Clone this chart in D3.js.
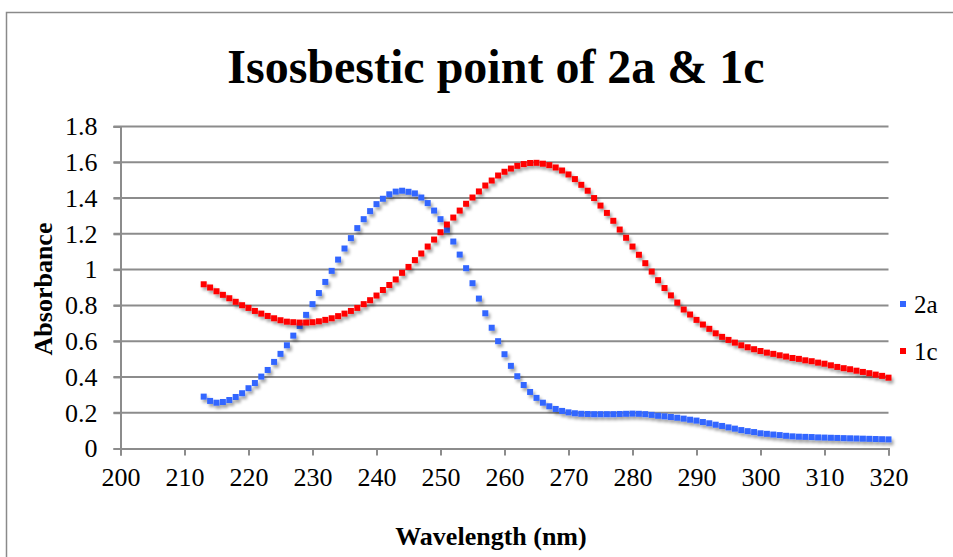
<!DOCTYPE html>
<html>
<head>
<meta charset="utf-8">
<script src="https://cdn.jsdelivr.net/npm/d3@7"></script>
<style>
  html, body { margin: 0; padding: 0; background: #fff; }
  svg { display: block; }
  text { font-family: "Liberation Serif", "Times New Roman", serif; fill: #000; }
</style>
</head>
<body>
<svg id="chart" width="953" height="557"></svg>
<script>
// Wavelength sampled every 1 nm, 213–320 nm
const wavelengths = d3.range(213, 321);

// Absorbance of compound 2a
const abs2a = [
  0.290, 0.266, 0.256, 0.260, 0.271, 0.288, 0.309, 0.337, 0.366, 0.402,
  0.439, 0.484, 0.529, 0.577, 0.631, 0.685, 0.747, 0.807, 0.869, 0.931,
  0.993, 1.056, 1.118, 1.176, 1.232, 1.282, 1.327, 1.366, 1.396, 1.421,
  1.436, 1.441, 1.435, 1.426, 1.403, 1.372, 1.330, 1.282, 1.222, 1.157,
  1.084, 1.008, 0.924, 0.838, 0.756, 0.675, 0.600, 0.527, 0.462, 0.404,
  0.355, 0.316, 0.283, 0.256, 0.236, 0.221, 0.210, 0.202, 0.197, 0.194,
  0.193, 0.192, 0.192, 0.192, 0.192, 0.193, 0.194, 0.195, 0.194, 0.192,
  0.188, 0.183, 0.180, 0.176, 0.172, 0.167, 0.161, 0.156, 0.148, 0.141,
  0.133, 0.126, 0.118, 0.111, 0.103, 0.097, 0.092, 0.085, 0.082, 0.078,
  0.075, 0.071, 0.068, 0.066, 0.065, 0.064, 0.062, 0.061, 0.060, 0.059,
  0.058, 0.057, 0.056, 0.055, 0.054, 0.053, 0.052, 0.051
];

// Absorbance of compound 1c
const abs1c = [
  0.918, 0.900, 0.879, 0.859, 0.840, 0.820, 0.801, 0.786, 0.769, 0.754,
  0.741, 0.728, 0.717, 0.709, 0.706, 0.704, 0.704, 0.706, 0.711, 0.719,
  0.728, 0.740, 0.754, 0.769, 0.786, 0.807, 0.829, 0.855, 0.886, 0.914,
  0.945, 0.982, 1.015, 1.053, 1.090, 1.129, 1.168, 1.209, 1.252, 1.291,
  1.330, 1.368, 1.403, 1.437, 1.470, 1.498, 1.526, 1.547, 1.565, 1.580,
  1.590, 1.596, 1.597, 1.592, 1.584, 1.571, 1.554, 1.532, 1.506, 1.474,
  1.441, 1.400, 1.358, 1.317, 1.273, 1.224, 1.178, 1.129, 1.083, 1.036,
  0.989, 0.941, 0.897, 0.856, 0.816, 0.777, 0.749, 0.719, 0.693, 0.669,
  0.644, 0.624, 0.607, 0.592, 0.577, 0.566, 0.555, 0.545, 0.536, 0.529,
  0.521, 0.514, 0.506, 0.501, 0.493, 0.488, 0.480, 0.474, 0.465, 0.456,
  0.449, 0.443, 0.435, 0.428, 0.421, 0.413, 0.406, 0.396
];

const seriesNames = ["2a", "1c"];
const seriesColors = ["#3366ff", "#ff0000"];
const xTicks = d3.range(200, 321, 10);
const yTicks = [0, 0.2, 0.4, 0.6, 0.8, 1, 1.2, 1.4, 1.6, 1.8];

const svg = d3.select("#chart");
const W = 953, H = 557;
const plot = { left: 120.5, right: 888.5, top: 126.5, bottom: 448.5 };

const x = d3.scaleLinear().domain([200, 320]).range([plot.left, plot.right]);
const y = d3.scaleLinear().domain([0, 1.8]).range([plot.bottom, plot.top]);

// soft drop shadow under the markers
const defs = svg.append("defs");
const f = defs.append("filter").attr("id", "shadow")
  .attr("x", "-50%").attr("y", "-50%").attr("width", "200%").attr("height", "200%");
f.append("feDropShadow").attr("dx", 2).attr("dy", 3).attr("stdDeviation", 1.8)
  .attr("flood-color", "#000").attr("flood-opacity", 0.35);

// chart frame
svg.append("path")
  .attr("d", `M6.5,${H + 5}V12.5H${W + 5}`)
  .attr("fill", "none").attr("stroke", "#8a8a8a").attr("stroke-width", 1.5);

// title
svg.append("text")
  .attr("x", 496).attr("y", 83)
  .attr("text-anchor", "middle")
  .attr("font-size", 48).attr("font-weight", "bold")
  .text("Isosbestic point of 2a & 1c");

// horizontal gridlines (extend left as tick marks)
svg.append("g")
  .selectAll("line").data(yTicks.slice(1)).join("line")
  .attr("x1", plot.left - 7).attr("x2", plot.right)
  .attr("y1", d => y(d)).attr("y2", d => y(d))
  .attr("stroke", "#8c8c8c").attr("stroke-width", 2);

// y axis
const yAxis = svg.append("g")
  .attr("transform", `translate(${plot.left},0)`)
  .call(d3.axisLeft(y).tickValues(yTicks).tickSize(7).tickPadding(16)
    .tickFormat(d => d3.format("")(+d.toFixed(1))));
// x axis
const xAxis = svg.append("g")
  .attr("transform", `translate(0,${plot.bottom})`)
  .call(d3.axisBottom(x).tickValues(xTicks).tickSize(7).tickPadding(12));

[yAxis, xAxis].forEach(g => {
  g.select(".domain").attr("stroke", "#8c8c8c").attr("stroke-width", 2);
  g.selectAll(".tick line").attr("stroke", "#8c8c8c").attr("stroke-width", 2);
  g.selectAll(".tick text")
    .attr("font-family", "'Liberation Serif', 'Times New Roman', serif")
    .attr("font-size", 26).attr("fill", "#000");
});

// axis titles
svg.append("text")
  .attr("x", 491).attr("y", 545)
  .attr("text-anchor", "middle")
  .attr("font-size", 26).attr("font-weight", "bold")
  .text("Wavelength (nm)");
svg.append("text")
  .attr("transform", "translate(52,289) rotate(-90)")
  .attr("text-anchor", "middle")
  .attr("font-size", 26).attr("font-weight", "bold")
  .text("Absorbance");

// markers
const M = 6;
[abs2a, abs1c].forEach((vals, i) => {
  svg.append("g").attr("filter", "url(#shadow)")
    .selectAll("rect").data(vals).join("rect")
    .attr("x", (d, j) => x(wavelengths[j]) - M / 2)
    .attr("y", d => y(d) - M / 2)
    .attr("width", M).attr("height", M)
    .attr("fill", seriesColors[i]);
});

// legend
const legend = svg.append("g");
seriesNames.forEach((name, i) => {
  const cy = 304 + i * 47;
  legend.append("rect")
    .attr("x", 900).attr("y", cy - 3).attr("width", M).attr("height", M)
    .attr("fill", seriesColors[i]);
  legend.append("text")
    .attr("x", 914).attr("y", cy + 9)
    .attr("font-size", 25)
    .text(name);
});
</script>
</body>
</html>
